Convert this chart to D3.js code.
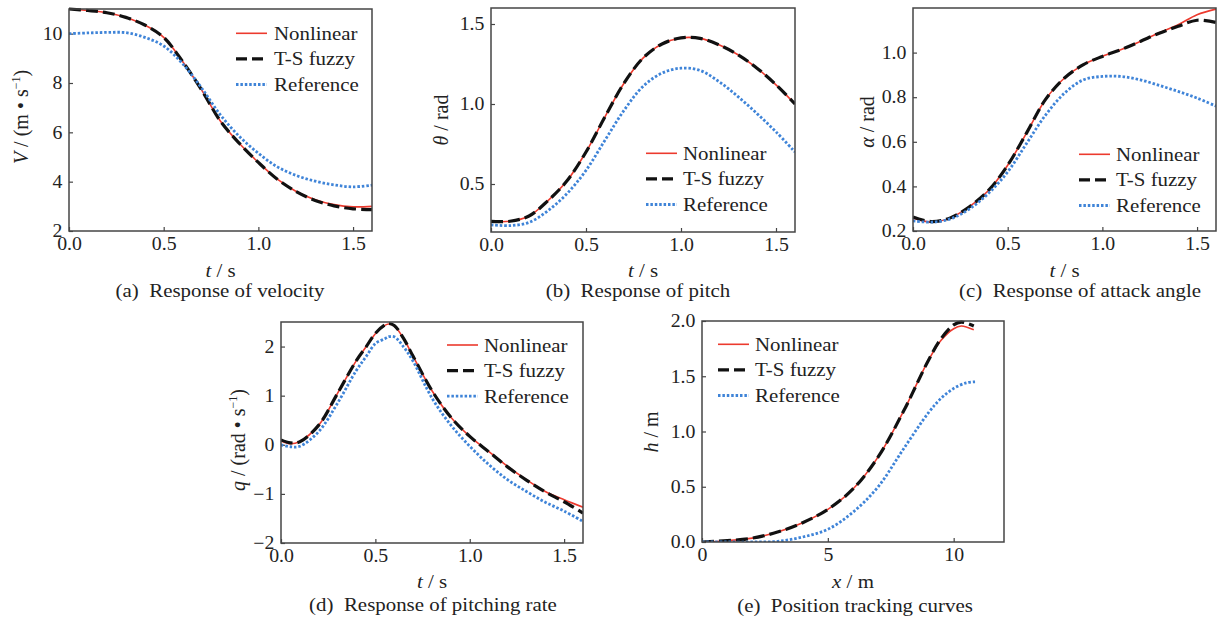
<!DOCTYPE html>
<html>
<head>
<meta charset="utf-8">
<script src="https://cdn.jsdelivr.net/npm/d3@7"></script>
<style>
  body { margin: 0; background: #fff; }
  text { font-family: "Liberation Serif", "Times New Roman", serif; fill: #222; }
</style>
</head>
<body>
<svg id="fig" width="1218" height="622"></svg>
<script>
// ---- data ----
var seriesNames = ['Nonlinear', 'T-S fuzzy', 'Reference'];

var tSteps = [0, 0.1, 0.2, 0.3, 0.4, 0.5, 0.6, 0.7, 0.8, 0.9, 1.0, 1.1, 1.2, 1.3, 1.4, 1.5, 1.6];
var tTicks = [0, 0.5, 1.0, 1.5];

// (a) velocity
var vNonlinear = [11.0, 10.94, 10.85, 10.66, 10.35, 9.85, 8.87, 7.72, 6.45, 5.55, 4.78, 4.1, 3.6, 3.27, 3.07, 2.98, 3.0];
var vFuzzy     = [11.0, 10.94, 10.85, 10.66, 10.35, 9.85, 8.87, 7.72, 6.45, 5.55, 4.78, 4.1, 3.6, 3.24, 3.02, 2.9, 2.87];
var vReference = [10.0, 10.03, 10.05, 10.04, 9.85, 9.5, 8.78, 7.8, 6.7, 5.83, 5.15, 4.6, 4.25, 4.02, 3.87, 3.79, 3.86];
var vTicks = [2, 4, 6, 8, 10];

// (b) pitch
var thNonlinear = [0.266, 0.267, 0.30, 0.396, 0.52, 0.70, 0.92, 1.13, 1.287, 1.375, 1.413, 1.41, 1.37, 1.308, 1.224, 1.12, 1.0];
var thFuzzy     = [0.266, 0.267, 0.30, 0.396, 0.52, 0.70, 0.92, 1.13, 1.287, 1.375, 1.413, 1.41, 1.37, 1.308, 1.224, 1.12, 1.0];
var thReference = [0.245, 0.24, 0.26, 0.333, 0.44, 0.585, 0.774, 0.96, 1.11, 1.193, 1.224, 1.21, 1.14, 1.046, 0.94, 0.826, 0.70];
var thTicks = [0.5, 1.0, 1.5];

// (c) attack angle
var aNonlinear = [0.258, 0.24, 0.26, 0.31, 0.383, 0.495, 0.64, 0.79, 0.886, 0.946, 0.983, 1.014, 1.05, 1.089, 1.125, 1.17, 1.195];
var aFuzzy     = [0.263, 0.242, 0.26, 0.31, 0.383, 0.495, 0.64, 0.79, 0.886, 0.946, 0.983, 1.014, 1.05, 1.087, 1.118, 1.145, 1.135];
var aReference = [0.245, 0.24, 0.255, 0.30, 0.37, 0.465, 0.593, 0.72, 0.818, 0.878, 0.893, 0.893, 0.878, 0.853, 0.826, 0.796, 0.76];
var aTicks = [0.2, 0.4, 0.6, 0.8, 1.0];

// (d) pitching rate
var tPitchRate = [0, 0.05, 0.1, 0.2, 0.3, 0.4, 0.45, 0.5, 0.55, 0.57, 0.6, 0.65, 0.7, 0.8, 0.9, 1.0, 1.1, 1.2, 1.3, 1.4, 1.5, 1.6];
var qNonlinear = [0.08, 0.02, 0.07, 0.4, 1.05, 1.72, 1.99, 2.26, 2.43, 2.46, 2.42, 2.16, 1.8, 1.1, 0.56, 0.17, -0.135, -0.44, -0.71, -0.95, -1.12, -1.27];
var qFuzzy     = [0.1, 0.04, 0.06, 0.4, 1.05, 1.72, 1.99, 2.27, 2.44, 2.47, 2.43, 2.16, 1.8, 1.1, 0.56, 0.17, -0.14, -0.45, -0.72, -0.96, -1.16, -1.39];
var qReference = [0.0, -0.04, -0.03, 0.27, 0.85, 1.52, 1.79, 2.06, 2.16, 2.2, 2.2, 1.99, 1.7, 0.95, 0.4, -0.03, -0.4, -0.71, -0.95, -1.17, -1.35, -1.56];
var qTicks = [-2, -1, 0, 1, 2];

// (e) position tracking
var xTrack     = [0, 1, 2, 3, 4, 5, 6, 7, 8, 9, 9.5, 10, 10.3, 10.8];
var hNonlinear = [0, 0.012, 0.035, 0.09, 0.175, 0.295, 0.48, 0.77, 1.18, 1.645, 1.825, 1.93, 1.955, 1.92];
var hFuzzy     = [0, 0.012, 0.035, 0.09, 0.175, 0.295, 0.48, 0.77, 1.18, 1.645, 1.84, 1.965, 1.99, 1.955];
var xTrackRef  = [0, 1, 2, 3, 4, 5, 6, 7, 8, 9, 9.5, 10, 10.5, 10.85];
var hReference = [0, 0, 0, 0.006, 0.045, 0.115, 0.27, 0.5, 0.84, 1.17, 1.30, 1.39, 1.44, 1.45];
var xTicks = [0, 5, 10];
var hTicks = [0.0, 0.5, 1.0, 1.5, 2.0];

// ---- layout ----
var stretch = 1.1;   // the source figure's type is a little wide
var styles = [
	{color: '#ec3a2e', width: 1.6, dash: null},
	{color: '#111111', width: 3.2, dash: '12,5'},
	{color: '#3f84d8', width: 2.8, dash: '2.5,1.9'}
];

var panels = [
	{box: [69, 9, 372, 231], xd: [0, 1.6], yd: [2, 11], xt: tTicks, yt: vTicks, xf: '.1f', yf: 'd',
	 x: [tSteps, tSteps, tSteps], y: [vNonlinear, vFuzzy, vReference],
	 legend: [236, 274, 33.3], ylab: [21, 117, 'V', ' / (m • s', '−1', ')'], xlab: ['t', ' / s'],
	 cap: [220, 297, '(a)  Response of velocity'], xlabY: 277},
	{box: [491, 8, 795, 232], xd: [0, 1.6], yd: [0.2, 1.6], xt: tTicks, yt: thTicks, xf: '.1f', yf: '.1f',
	 x: [tSteps, tSteps, tSteps], y: [thNonlinear, thFuzzy, thReference],
	 legend: [646, 683, 153.3], ylab: [441, 120, 'θ', ' / rad'], xlab: ['t', ' / s'],
	 cap: [638, 297, '(b)  Response of pitch'], xlabY: 277},
	{box: [913, 8, 1216, 231], xd: [0, 1.6], yd: [0.2, 1.2], xt: tTicks, yt: aTicks, xf: '.1f', yf: '.1f',
	 x: [tSteps, tSteps, tSteps], y: [aNonlinear, aFuzzy, aReference],
	 legend: [1079, 1116, 154.3], ylab: [867, 122, 'α', ' / rad'], xlab: ['t', ' / s'],
	 cap: [1080, 297, '(c)  Response of attack angle'], xlabY: 277},
	{box: [281, 322, 583, 543], xd: [0, 1.6], yd: [-2, 2.5], xt: tTicks, yt: qTicks, xf: '.1f', yf: 'd',
	 x: [tPitchRate, tPitchRate, tPitchRate], y: [qNonlinear, qFuzzy, qReference],
	 legend: [447, 484, 345], ylab: [238, 440, 'q', ' / (rad • s', '−1', ')'], xlab: ['t', ' / s'],
	 cap: [433, 611, '(d)  Response of pitching rate'], xlabY: 588},
	{box: [702, 321, 1004, 542], xd: [0, 12], yd: [0, 2], xt: xTicks, yt: hTicks, xf: 'd', yf: '.1f',
	 x: [xTrack, xTrack, xTrackRef], y: [hNonlinear, hFuzzy, hReference],
	 legend: [718, 755, 344.3], ylab: [651, 432, 'h', ' / m'], xlab: ['x', ' / m'],
	 cap: [855, 612, '(e)  Position tracking curves'], xlabY: 588}
];

var svg = d3.select('#fig');
var frameColor = '#454545';

panels.forEach(function(p, pi){
	var L = p.box[0], T = p.box[1], R = p.box[2], B = p.box[3];
	var xScale = d3.scaleLinear().domain(p.xd).range([L, R]),
		yScale = d3.scaleLinear().domain(p.yd).range([B, T]);

	var g = svg.append('g');

	svg.append('clipPath').attr('id', 'clip' + pi)
		.append('rect').attr('x', L).attr('y', T - 2).attr('width', R - L).attr('height', B - T + 2);

	// axes, ticks pointing inward
	var xAxis = d3.axisBottom(xScale).tickValues(p.xt).tickFormat(d3.format(p.xf))
		.tickSizeInner(-4).tickSizeOuter(0).tickPadding(6);
	var yAxis = d3.axisLeft(yScale).tickValues(p.yt).tickFormat(d3.format(p.yf))
		.tickSizeInner(-4).tickSizeOuter(0).tickPadding(6);

	var gx = g.append('g').attr('transform', 'translate(0,' + B + ')').call(xAxis);
	var gy = g.append('g').attr('transform', 'translate(' + L + ',0)').call(yAxis);
	[gx, gy].forEach(function(a){
		a.select('.domain').remove();
		a.selectAll('line').attr('stroke', frameColor).attr('stroke-width', 1.2);
		a.selectAll('text').attr('fill', '#222').style('font-size', '18px')
			.style('font-family', '"Liberation Serif", serif')
			.attr('transform', 'scale(' + stretch + ',1)');
	});

	// curves
	var line = d3.line().curve(d3.curveCatmullRom.alpha(0.5))
		.x(function(d){ return xScale(d[0]); })
		.y(function(d){ return yScale(d[1]); });

	var lines = g.append('g').attr('clip-path', 'url(#clip' + pi + ')');
	seriesNames.forEach(function(name, si){
		var pts = p.x[si].map(function(xv, k){ return [xv, p.y[si][k]]; });
		lines.append('path')
			.datum(pts)
			.attr('d', line)
			.attr('fill', 'none')
			.attr('stroke', styles[si].color)
			.attr('stroke-width', styles[si].width)
			.attr('stroke-dasharray', styles[si].dash);
	});

	// frame
	g.append('rect')
		.attr('x', L).attr('y', T).attr('width', R - L).attr('height', B - T)
		.attr('fill', 'none').attr('stroke', frameColor).attr('stroke-width', 1.5);

	// legend
	var leg = g.selectAll('.legend')
		.data(seriesNames)
		.enter().append('g')
			.attr('class', 'legend')
			.attr('transform', function(d, i){ return 'translate(0,' + (p.legend[2] + i * 25.6) + ')'; });
	leg.append('line')
		.attr('x1', p.legend[0]).attr('x2', p.legend[0] + 31)
		.attr('stroke', function(d, i){ return styles[i].color; })
		.attr('stroke-width', function(d, i){ return styles[i].width; })
		.attr('stroke-dasharray', function(d, i){ return i == 1 ? '11,5' : styles[i].dash; });
	leg.append('text')
		.attr('transform', 'translate(' + p.legend[1] + ',6.5) scale(' + stretch + ',1)')
		.style('font-size', '19px')
		.text(function(d){ return d; });

	// x label
	var xl = g.append('text')
		.attr('transform', 'translate(' + ((L + R) / 2) + ',' + p.xlabY + ') scale(' + stretch + ',1)')
		.attr('text-anchor', 'middle').style('font-size', '19px');
	xl.append('tspan').style('font-style', 'italic').text(p.xlab[0]);
	xl.append('tspan').text(p.xlab[1]);

	// y label
	var yl = g.append('text')
		.attr('transform', 'translate(' + p.ylab[0] + ',' + p.ylab[1] + ') rotate(-90)')
		.attr('text-anchor', 'middle').attr('dy', '0.35em').style('font-size', '20px');
	yl.append('tspan').style('font-style', 'italic').text(p.ylab[2]);
	yl.append('tspan').text(p.ylab[3]);
	if (p.ylab.length > 4) {
		yl.append('tspan').attr('dy', -8).style('font-size', '12px').text(p.ylab[4]);
		yl.append('tspan').attr('dy', 8).text(p.ylab[5]);
	}

	// caption (keeps the double space after the letter)
	g.append('text')
		.attr('transform', 'translate(' + p.cap[0] + ',' + p.cap[1] + ') scale(' + stretch + ',1)')
		.attr('text-anchor', 'middle').style('font-size', '19px')
		.style('white-space', 'pre')
		.text(p.cap[2]);
});
</script>
</body>
</html>
